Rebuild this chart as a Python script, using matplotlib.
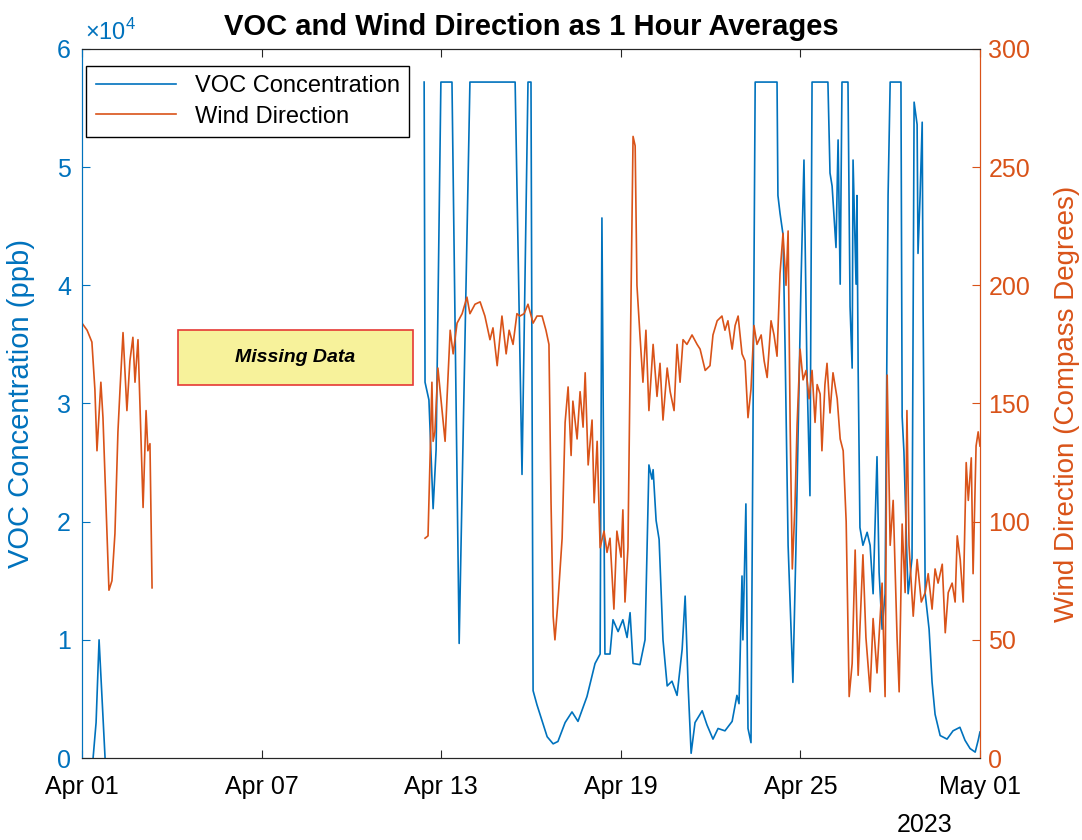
import numpy as np
import pandas as pd
import matplotlib
matplotlib.use('Agg')
import matplotlib.pyplot as plt
import matplotlib.dates as mdates
from matplotlib.patches import Rectangle
from matplotlib.ticker import FuncFormatter

plt.rcParams['font.family'] = ['Liberation Sans', 'DejaVu Sans']
plt.rcParams['mathtext.fontset'] = 'custom'
plt.rcParams['mathtext.rm'] = 'Liberation Sans'

azul = '#0072BD'
naranja = '#D95319'

# datos (días desde 1 de abril 00:00)
voc_dia = [0.37, 0.47, 0.57, 0.67, 0.77, 7.0,
           11.43, 11.46, 11.59, 11.73, 11.83, 11.99, 12.36, 12.60, 12.96, 14.47,
           14.70, 14.90, 15.00, 15.07, 15.20, 15.54, 15.74, 15.90, 16.14, 16.37,
           16.57, 16.87, 17.14, 17.31, 17.37, 17.47, 17.64, 17.74, 17.91, 18.07,
           18.21, 18.31, 18.41, 18.64, 18.81, 18.94, 19.04, 19.08, 19.18, 19.28,
           19.41, 19.55, 19.71, 19.88, 20.05, 20.15, 20.25, 20.35, 20.48, 20.72,
           20.88, 21.08, 21.25, 21.48, 21.72, 21.88, 21.95, 22.05, 22.08, 22.18,
           22.25, 22.35, 22.49, 23.22, 23.25, 23.32, 23.42, 23.49, 23.59, 23.75,
           23.85, 24.02, 24.12, 24.22, 24.32, 24.39, 24.92, 24.99, 25.06, 25.19,
           25.26, 25.33, 25.39, 25.59, 25.66, 25.73, 25.76, 25.86, 25.89, 25.93,
           25.99, 26.09, 26.23, 26.33, 26.43, 26.56, 26.63, 26.73, 26.83, 26.93,
           27.00, 27.36, 27.40, 27.46, 27.56, 27.60, 27.73, 27.80, 27.90, 27.93,
           28.00, 28.07, 28.10, 28.17, 28.30, 28.40, 28.50, 28.67, 28.90, 29.10,
           29.33, 29.50, 29.67, 29.84, 29.94, 30.00]
voc_ppb = [0, 3000, 10000, 5000, 0, np.nan,
           57200, 31800, 30300, 21100, 26100, 57200, 57200, 9700, 57200, 57200,
           24000, 57200, 57200, 5700, 4500, 1800, 1200, 1400, 3000, 3900,
           3100, 5200, 8000, 8800, 45700, 8800, 8800, 11700, 10700, 11700,
           10200, 12300, 8000, 7900, 10000, 24800, 23600, 24400, 20100, 18500,
           10000, 6100, 6500, 5300, 9200, 13700, 6100, 400, 3000, 4000,
           2800, 1600, 2500, 2300, 3100, 5300, 4600, 15400, 10000, 21500,
           2500, 1300, 57200, 57200, 47600, 46100, 44300, 34500, 18000, 6400,
           17600, 40100, 50600, 32700, 22200, 57200, 57200, 49500, 48400, 43200,
           52300, 40100, 57200, 57200, 38200, 33000, 50600, 40100, 47600, 33000,
           19500, 18000, 19100, 18000, 13900, 25500, 15700, 10900, 13900, 47600,
           57200, 57200, 28900, 25900, 16900, 13900, 16900, 55500, 53600, 42700,
           47600, 53800, 37900, 13900, 10900, 6400, 3700, 1900, 1600, 2300,
           2600, 1500, 800, 500, 1500, 2200]

viento_dia = [0.00, 0.17, 0.33, 0.43, 0.50, 0.63, 0.70, 0.90, 1.00, 1.10,
              1.20, 1.27, 1.37, 1.50, 1.60, 1.70, 1.77, 1.87, 2.04, 2.14,
              2.20, 2.27, 2.34, 7.0,
              11.46, 11.56, 11.63, 11.69, 11.73, 11.79, 11.89, 12.03, 12.13, 12.19,
              12.30, 12.40, 12.53, 12.70, 12.86, 12.96, 13.13, 13.30, 13.46, 13.63,
              13.73, 13.87, 14.03, 14.17, 14.27, 14.40, 14.53, 14.63, 14.77, 14.90,
              15.07, 15.20, 15.37, 15.50, 15.60, 15.67, 15.74, 15.80, 15.90, 16.04,
              16.14, 16.24, 16.34, 16.40, 16.54, 16.64, 16.74, 16.81, 16.91, 17.04,
              17.11, 17.21, 17.31, 17.44, 17.54, 17.64, 17.77, 17.87, 18.01, 18.07,
              18.14, 18.24, 18.31, 18.41, 18.48, 18.54, 18.64, 18.74, 18.84, 18.94,
              19.08, 19.21, 19.31, 19.41, 19.55, 19.65, 19.78, 19.88, 19.98, 20.08,
              20.21, 20.38, 20.55, 20.65, 20.82, 20.98, 21.08, 21.22, 21.38, 21.48,
              21.58, 21.72, 21.82, 21.92, 22.05, 22.15, 22.25, 22.35, 22.45, 22.55,
              22.69, 22.79, 22.89, 23.02, 23.12, 23.22, 23.32, 23.42, 23.52, 23.59,
              23.66, 23.73, 23.82, 23.89, 23.99, 24.09, 24.19, 24.29, 24.39, 24.49,
              24.56, 24.66, 24.72, 24.82, 24.89, 24.99, 25.09, 25.23, 25.33, 25.43,
              25.53, 25.63, 25.73, 25.83, 25.93, 25.99, 26.09, 26.19, 26.33, 26.43,
              26.56, 26.73, 26.83, 26.90, 27.00, 27.10, 27.23, 27.30, 27.40, 27.50,
              27.56, 27.63, 27.77, 27.90, 28.04, 28.17, 28.27, 28.40, 28.50, 28.60,
              28.74, 28.84, 28.94, 29.07, 29.17, 29.24, 29.34, 29.44, 29.54, 29.61,
              29.71, 29.77, 29.87, 29.94, 30.00]
viento_grados = [184, 181, 176, 156, 130, 159, 144, 71, 75, 95,
                 138, 156, 180, 147, 168, 178, 159, 177, 106, 147,
                 130, 133, 72, np.nan,
                 93, 94, 128, 159, 134, 138, 165, 147, 134, 151,
                 181, 171, 184, 188, 195, 188, 192, 193, 187, 177,
                 182, 166, 187, 171, 181, 175, 188, 187, 188, 192,
                 184, 187, 187, 181, 175, 108, 60, 50, 66, 93,
                 142, 157, 128, 151, 135, 155, 140, 163, 124, 143,
                 108, 134, 89, 96, 87, 93, 63, 96, 85, 105,
                 66, 89, 163, 263, 259, 200, 179, 159, 181, 147,
                 175, 153, 167, 143, 165, 155, 147, 175, 159, 177,
                 175, 179, 175, 173, 164, 166, 179, 185, 187, 181,
                 185, 173, 183, 187, 171, 168, 144, 156, 183, 175,
                 179, 168, 161, 185, 179, 170, 205, 222, 200, 223,
                 139, 80, 107, 141, 173, 160, 164, 152, 164, 142,
                 158, 154, 130, 158, 167, 146, 163, 152, 135, 130,
                 100, 26, 40, 88, 35, 55, 86, 51, 28, 59,
                 36, 74, 26, 162, 90, 109, 51, 28, 99, 70,
                 147, 90, 60, 84, 66, 70, 78, 63, 80, 74,
                 82, 53, 70, 74, 66, 94, 84, 66, 125, 109,
                 127, 78, 132, 138, 132]

inicio = pd.Timestamp('2023-04-01')
fin = pd.Timestamp('2023-05-01')
voc_t = inicio + pd.to_timedelta(voc_dia, unit='D')
viento_t = inicio + pd.to_timedelta(viento_dia, unit='D')

fig = plt.figure(figsize=(10.82, 8.4), dpi=100)
ax = fig.add_axes([0.0758, 0.0976, 0.8299, 0.8441])
ax2 = ax.twinx()

l1, = ax.plot(voc_t, voc_ppb, color=azul, lw=1.2, label='VOC Concentration')
l2, = ax2.plot(viento_t, viento_grados, color=naranja, lw=1.2, label='Wind Direction')

ax.set_xlim(inicio, fin)
ax.set_ylim(0, 60000)
ax2.set_ylim(0, 300)
ax.xaxis.set_major_locator(mdates.DayLocator(bymonthday=[1, 7, 13, 19, 25]))
ax.xaxis.set_major_formatter(mdates.DateFormatter('%b %d'))
ax.set_yticks(np.arange(0, 60001, 10000))
ax.yaxis.set_major_formatter(FuncFormatter(lambda v, p: f'{v / 1e4:g}'))
ax2.set_yticks(np.arange(0, 301, 50))

ax.tick_params(axis='x', direction='in', length=6, top=True, labelsize=18, pad=12, color='#262626')
ax.tick_params(axis='y', direction='in', length=6, colors=azul, labelsize=18, pad=8)
ax2.tick_params(axis='y', direction='in', length=6, colors=naranja, labelsize=18, pad=6)

for a in (ax, ax2):
    a.spines['top'].set_color('#262626')
    a.spines['bottom'].set_color('#262626')
    a.spines['left'].set_color(azul)
    a.spines['right'].set_color(naranja)

ax.set_ylabel('VOC Concentration (ppb)', color=azul, fontsize=21)
ax.yaxis.set_label_coords(-0.052, 0.5)
ax2.set_ylabel('Wind Direction (Compass Degrees)', color=naranja, fontsize=20)
ax2.yaxis.set_label_coords(1.082, 0.5)

ax.set_title('VOC and Wind Direction as 1 Hour Averages', fontsize=21, fontweight='bold', pad=10)
ax.text(0.003, 1.006, r'$\times10^{4}$', transform=ax.transAxes, color=azul,
        fontsize=17, ha='left', va='bottom')
fig.text(0.855, 0.018, '2023', ha='center', va='center', fontsize=18)

ax2.legend([l1, l2], ['VOC Concentration', 'Wind Direction'], loc='upper left',
           bbox_to_anchor=(0.0045, 0.976), borderaxespad=0, fontsize=17,
           fancybox=False, edgecolor='black', framealpha=1, handlelength=3.4,
           borderpad=0.4, labelspacing=0.35)

# recuadro de datos faltantes
ax2.add_patch(Rectangle((0.107, 0.526), 0.2617, 0.0776, transform=ax.transAxes,
                        facecolor='#F7F29B', edgecolor='#E53935', lw=1.2, zorder=6))
ax2.text(0.2378, 0.5648, 'Missing Data', transform=ax.transAxes, ha='center', va='center',
         fontsize=14, fontweight='bold', fontstyle='italic', zorder=7)

fig.savefig('out.png', dpi=100)
